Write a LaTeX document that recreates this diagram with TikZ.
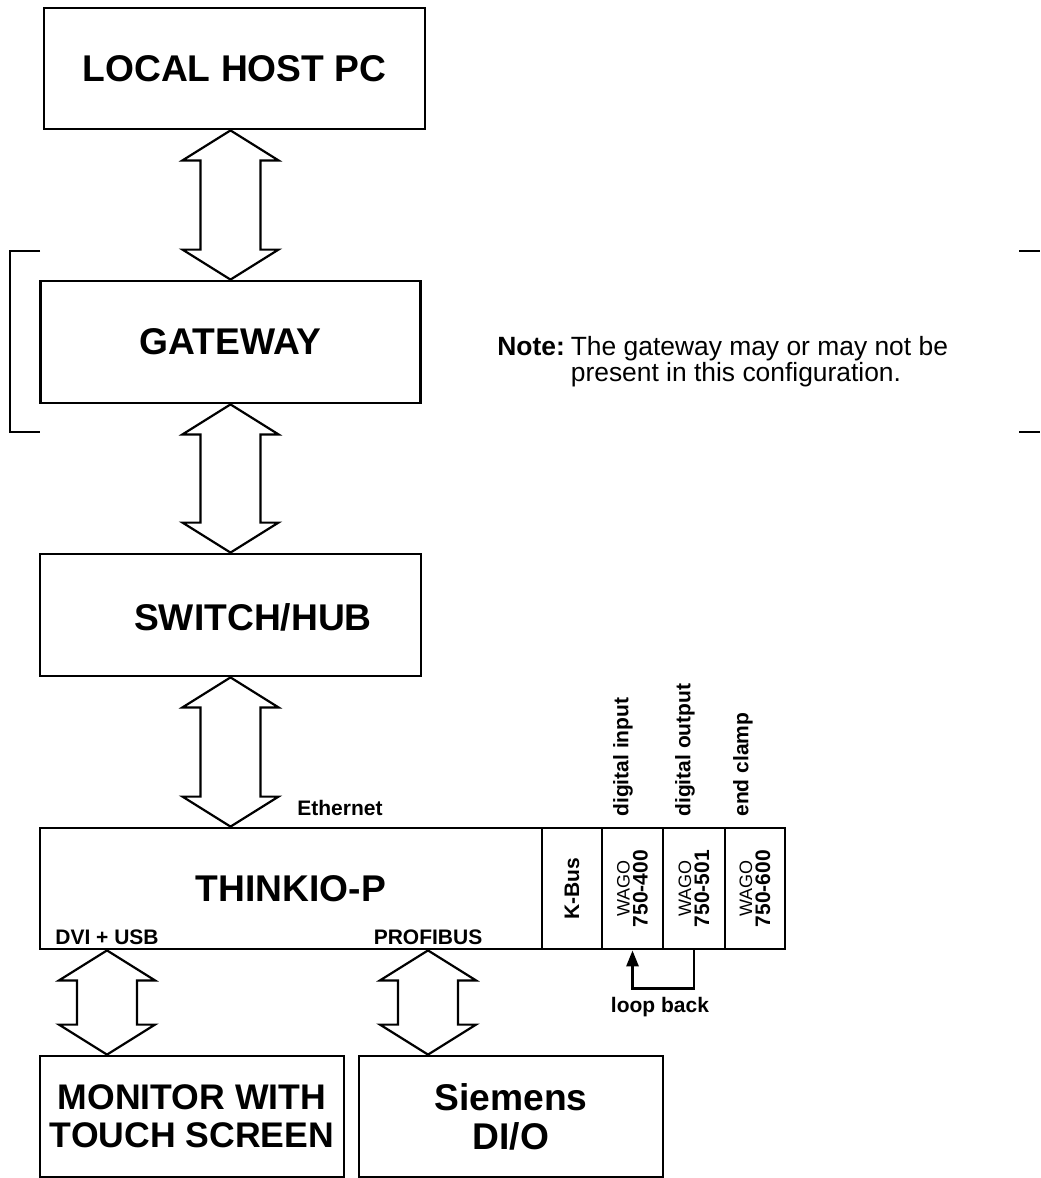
\documentclass[tikz,border=0pt]{standalone}
\usepackage{fontspec}
\setmainfont{Liberation Sans}
\usetikzlibrary{arrows.meta, calc}
\tikzset{
  big/.style={font=\fontsize{18.6}{19.5}\selectfont\bfseries, align=center, inner sep=0pt},
  blk/.style={big, draw, line width=1.4pt},
  mod/.style={draw, line width=1.4pt, inner sep=0pt, minimum height=60.5pt},
  tag/.style={font=\fontsize{10.5}{12}\selectfont\bfseries, inner sep=0pt},
  vtag/.style={tag, rotate=90, anchor=west},
  hollow/.style={draw, line width=1.1pt, line join=miter},
  loopline/.style={draw, line width=1.4pt, -{Triangle[length=8pt, width=6pt]}},
}
% hollow double arrow, from #1 (top) down to #2
\newcommand{\bigarrow}[2]{%
  \draw[hollow] let \p1=(#1), \p2=(#2) in
    (\x1,\y1) -- (\x1+24pt,\y1-15pt) -- (\x1+15pt,\y1-15pt) -- (\x1+15pt,\y2+15pt) -- (\x1+24pt,\y2+15pt)
    -- (\x1,\y2) -- (\x1-24pt,\y2+15pt) -- (\x1-15pt,\y2+15pt) -- (\x1-15pt,\y1-15pt) -- (\x1-24pt,\y1-15pt) -- cycle;}
\begin{document}
\begin{tikzpicture}[x=0.5pt, y=-0.5pt]
  \useasboundingbox (0,0) rectangle (1040,1178);
  % main chain
  \node[blk, minimum width=190.5pt, minimum height=60.5pt] (host) at (234.5,68.5) {LOCAL HOST PC};
  \node[blk, minimum width=190pt, minimum height=61pt] (gateway) at (230.5,342) {GATEWAY};
  \node[blk, minimum width=190.5pt, minimum height=61pt] (switch) at (230.5,615) {};
  \node[big] (switchlbl) at (253,617) {SWITCH/HUB};
  \node[blk, minimum width=251pt, minimum height=60.5pt] (thinkio) at (291,888.5) {THINKIO-P};
  % gateway is optional
  \draw[line width=1.4pt] (40,251) -| (10,432) -- (40,432);
  \draw[line width=1.4pt] (1019,251) -- (1040,251) (1019,432) -- (1040,432);
  \node[anchor=west, inner sep=0pt, font=\fontsize{13.2}{11.5}\selectfont] (note) at (497,362)
    {\begin{tabular}{@{}l@{\hspace{3pt}}l@{}}\textbf{Note:} & The gateway may or may not be\\ & present in this configuration.\end{tabular}};
  % I/O modules
  \foreach \n/\x/\w in {kbus/572/30pt, m400/632.5/30.5pt, m501/694/31pt, m600/755/30pt} {
    \node[mod, minimum width=\w] (\n) at (\x,888.5) {};
  }
  \node[tag, rotate=90] (kbuslbl) at (kbus) {K-Bus};
  \foreach \n/\t in {m400/750-400, m501/750-501, m600/750-600} {
    \node[rotate=90, align=center, inner sep=0pt, font=\fontsize{10.5}{9}\selectfont\bfseries] (\n lbl) at (\n)
      {{\fontsize{9}{9}\selectfont\mdseries WAGO}\\\t};
  }
  \node[vtag] (din) at (623,817) {digital input};
  \node[vtag] (dout) at (685,817) {digital output};
  \node[vtag] (eclamp) at (743,817) {end clamp};
  \draw[loopline] (m501.south) -- ++(0,38) -| (m400.south);
  \node[tag] (loopback) at (660,1007) {loop back};
  % ports
  \node[tag] (eth) at (340,808) {Ethernet};
  \node[tag] (dvi) at (107,937) {DVI + USB};
  \node[tag] (profibus) at (428,937) {PROFIBUS};
  % field side
  \node[blk, minimum width=152pt, minimum height=60.5pt, font=\fontsize{17.8}{19}\selectfont\bfseries] (monitor) at (192,1116.5) {MONITOR WITH\\TOUCH SCREEN};
  \node[blk, minimum width=152pt, minimum height=60.5pt] (siemens) at (511,1116.5) {Siemens\\DI/O};
  % links
  \bigarrow{host.south -| gateway.north}{gateway.north}
  \bigarrow{gateway.south}{switch.north}
  \bigarrow{switch.south}{thinkio.north}
  \bigarrow{dvi |- thinkio.south}{monitor.north}
  \bigarrow{profibus |- thinkio.south}{siemens.north}
\end{tikzpicture}
\end{document}
